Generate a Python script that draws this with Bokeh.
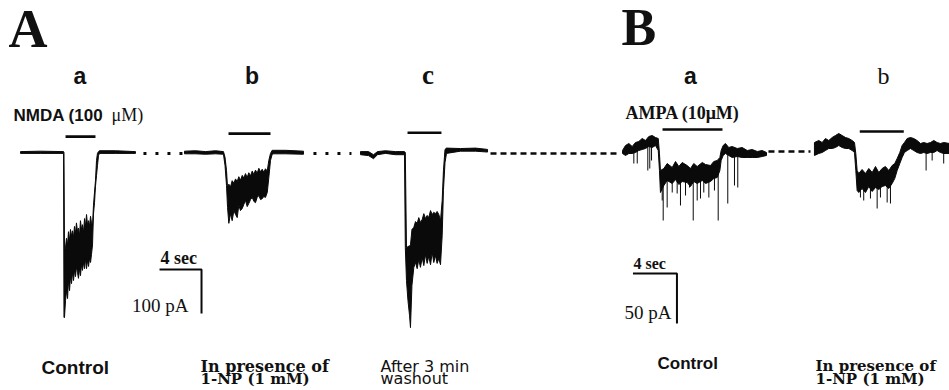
import numpy as np
from bokeh.plotting import figure
from bokeh.models import Range1d, Label
from bokeh.embed import file_html
from bokeh.resources import INLINE

# ---------------- DATA ----------------
# time: s from start of each sweep; current: pA relative to baseline
# (upper / lower envelope of the noisy whole-cell current)

# Panel A - NMDA (100 uM)
nmda_ctrl_t = [0, 1.90, 4.10, 4.14, 4.19, 4.29, 4.38, 4.48, 4.57, 4.67, 4.76, 4.86, 4.95, 5.05,
               5.14, 5.24, 5.33, 5.43, 5.52, 5.62, 5.71, 5.81, 5.90, 6.00, 6.10, 6.19, 6.29, 6.38,
               6.48, 6.57, 6.67, 6.76, 6.86, 6.95, 7.05, 7.14, 7.24, 7.33, 7.43, 7.52, 9.05, 10.95]
nmda_ctrl_hi = [2, 3, 2, 0, -225, -215, -195, -210, -180, -200, -175, -190, -178, -193,
                -168, -184, -160, -180, -172, -189, -155, -175, -164, -182, -150, -168, -141, -164,
                -155, -168, -145, -160, -166, -120, -90, -64, -18, -2, 2, 4, 4, 2]
nmda_ctrl_lo = [-2, -2, -2, -375, -375, -336, -314, -332, -291, -314, -282, -298, -273, -291,
                -268, -282, -259, -273, -286, -264, -280, -255, -268, -250, -264, -241, -264, -245,
                -259, -241, -250, -232, -210, -140, -114, -77, -52, -30, -7, -2, -2, -2]

nmda_np_t = [0, 1.05, 2.0, 2.95, 3.71, 3.86, 4.0, 4.10, 4.22, 4.38, 4.54, 4.70, 4.86, 5.02,
             5.17, 5.33, 5.50, 5.65, 5.81, 5.97, 6.12, 6.29, 6.45, 6.60, 6.76, 6.92, 7.08, 7.24,
             7.40, 7.55, 7.71, 7.88, 8.03, 8.19, 8.35, 8.50, 9.62, 11.33]
nmda_np_hi = [3, 4, 2, 4, 2, -11, -41, -80, -72, -78, -64, -70, -60, -66,
              -55, -63, -52, -58, -48, -57, -46, -53, -42, -50, -40, -47, -36, -44,
              -38, -45, -37, -42, -18, -2, 5, 5, 5, 3]
nmda_np_lo = [-3, -3, -4, -3, -4, -30, -75, -125, -161, -139, -155, -132, -141, -148,
              -120, -132, -127, -118, -109, -123, -116, -107, -102, -111, -114, -102, -98, -107,
              -105, -100, -102, -91, -57, -18, -4, -3, -3, -4]

nmda_wash_t = [0, 0.76, 1.24, 1.62, 2.38, 3.33, 4.19, 4.27, 4.38, 4.52, 4.67, 4.76, 4.90, 5.08,
               5.24, 5.40, 5.55, 5.71, 5.88, 6.03, 6.19, 6.35, 6.50, 6.67, 6.83, 6.98, 7.14, 7.30,
               7.46, 7.62, 7.78, 7.90, 8.05, 8.19, 9.52, 10.95, 12.10]
nmda_wash_hi = [2, 2, -5, 2, 4, 2, 2, 0, -216, -214, -212, -210, -175, -170,
                -157, -161, -148, -159, -152, -139, -150, -143, -148, -132, -141, -136, -139, -134,
                -141, -155, -109, -41, 7, 10, 9, 10, 7]
nmda_wash_lo = [-5, -7, -14, -5, -2, -5, -5, -216, -291, -336, -370, -398, -302, -261,
                -250, -264, -243, -261, -239, -257, -232, -252, -236, -255, -227, -250, -234, -252,
                -241, -255, -189, -86, -23, -2, 3, 3, 1]

# Panel B - AMPA (10 uM)
ampa_ctrl_t = [0, 0.27, 0.58, 0.88, 1.18, 1.48, 1.79, 2.09, 2.39, 2.70, 3.0, 3.25, 3.36, 3.45,
               3.76, 4.06, 4.52, 4.82, 5.12, 5.43, 5.88, 6.18, 6.48, 6.79, 7.25, 7.55, 8.0, 8.30,
               8.61, 8.85, 8.97, 9.15, 9.36, 9.66, 9.97, 10.43, 10.88, 11.34, 11.79, 12.25, 12.70, 13.09]
ampa_ctrl_hi = [2, 7, 9, 6, 10, 11, 14, 12, 16, 17, 15, 14, -1, -18,
                -16, -11, -15, -9, -14, -10, -13, -16, -11, -14, -10, -12, -13, -9,
                -8, -5, 2, 7, 9, 5, 6, 4, 5, 2, 3, 1, 2, 0]
ampa_ctrl_lo = [-1, -3, -1, -1, 0, 2, 3, 4, 6, 5, 7, 2, -18, -40,
                -33, -28, -31, -27, -32, -29, -30, -34, -29, -31, -28, -31, -29, -26,
                -25, -18, -8, -3, -1, -3, -5, -4, -5, -5, -5, -5, -4, -3]
ampa_ctrl_spk_t = [1.03, 1.34, 2.30, 2.48, 2.64, 3.61, 3.70, 4.06, 4.52, 4.97, 5.27, 5.73,
                   6.09, 6.43, 6.79, 7.09, 7.39, 7.85, 8.36, 8.70, 9.57, 10.18, 10.48]
ampa_ctrl_spk_pA = [-11, -11, -18, -16, -8, -48, -68, -55, -40, -41, -53, -43,
                    -35, -68, -48, -46, -40, -45, -38, -68, -51, -33, -35]

ampa_np_t = [0, 0.39, 0.70, 1.0, 1.30, 1.61, 1.91, 2.21, 2.52, 2.82, 3.12, 3.43, 3.64, 3.76, 3.88,
             4.03, 4.33, 4.64, 4.94, 5.25, 5.55, 5.85, 6.15, 6.45, 6.76, 7.06, 7.30, 7.52, 7.76, 7.97, 8.18,
             8.43, 8.73, 9.03, 9.33, 9.64, 9.94, 10.24, 10.55, 10.85, 11.15, 11.45, 11.76, 12.27]
ampa_np_hi = [10, 12, 10, 14, 12, 15, 17, 19, 17, 15, 14, 12, 10, -1, -18,
              -21, -17, -21, -16, -20, -14, -20, -16, -14, -18, -13, -11, -6, 0, 7, 10,
              14, 15, 14, 12, 9, 10, 9, 10, 12, 10, 9, 10, 9]
ampa_np_lo = [-3, -1, 0, 2, 4, 4, 5, 7, 5, 4, 4, 2, 0, -18, -38,
              -40, -36, -40, -34, -39, -35, -37, -34, -33, -36, -31, -26, -18, -11, -5, 0,
              2, 4, 2, 0, -1, 0, -1, 0, 0, 2, 0, -1, -1]
ampa_np_spk_t = [4.18, 4.48, 5.09, 5.70, 6.0, 6.61, 6.91, 10.15, 10.70, 11.75]
ampa_np_spk_pA = [-45, -48, -46, -56, -45, -50, -51, -18, -8, -11]

# drug application periods (s from sweep start)
nmda_app_on = [4.29, 4.19, 4.48]
nmda_app_off = [7.14, 8.19, 7.71]
ampa_app_on = [3.64, 4.12]
ampa_app_off = [9.09, 8.12]

# scale bars
scale_s = 4
nmda_scale_pA = 100
ampa_scale_pA = 50

# ---------------- LAYOUT ----------------
W, H = 949, 390
A_SX, A_SY = 10.5, 0.44      # px per s, px per pA (panel A)
B_SX, B_SY = 11.0, 1.0       # panel B
A_ORIGIN = (20, 152)         # picture px of t=0, 0 pA
B_ORIGIN = (622, 152)
A_OFFSETS = [0, 15.62, 32.38]
B_OFFSETS = [0, 17.45]
A_BAR_LEVEL = [36, 43, 45]
B_BAR_LEVEL = [23, 21]
A_SCALE_CORNER = (17.24, -266)
B_SCALE_CORNER = (4.95, -121)
A_DOTS = [(11.71, 15.43, -2), (27.90, 31.52, -2)]
B_DASHES = [(-12.0, -0.2, -1), (13.27, 17.09, 1)]


def make_ranges(origin, sx, sy):
    x0 = -origin[0] / sx
    ytop = origin[1] / sy
    return Range1d(x0, x0 + W / sx), Range1d(ytop - H / sy, ytop)


ax, ay = make_ranges(A_ORIGIN, A_SX, A_SY)
bx, by = make_ranges(B_ORIGIN, B_SX, B_SY)

p = figure(width=W, height=H, x_range=ax, y_range=ay, output_backend="svg",
           toolbar_location=None, x_axis_type=None, y_axis_type=None,
           min_border=0, outline_line_color=None,
           background_fill_color="white", border_fill_color="white")
p.extra_x_ranges = {"B": bx, "px": Range1d(0, W)}
p.extra_y_ranges = {"B": by, "py": Range1d(H, 0)}

INK = "#0a0a0a"


def rn(panel):
    return dict(x_range_name=panel, y_range_name=panel) if panel != "default" else {}


def trace(t, hi, lo, off, panel):
    t = np.asarray(t, float) + off
    xs = np.concatenate([t, t[::-1]])
    ys = np.concatenate([np.asarray(hi, float), np.asarray(lo, float)[::-1]])
    p.patch(xs, ys, fill_color=INK, line_color=INK, line_width=1, line_join="round", **rn(panel))
    return t


def spikes(t_tr, lo, st, sp, off, panel):
    st = np.asarray(st, float) + off
    base = np.interp(st, t_tr, lo) + 2
    p.segment(st, base, st, sp, line_color=INK, line_width=1, **rn(panel))


trace(nmda_ctrl_t, nmda_ctrl_hi, nmda_ctrl_lo, A_OFFSETS[0], "default")
trace(nmda_np_t, nmda_np_hi, nmda_np_lo, A_OFFSETS[1], "default")
trace(nmda_wash_t, nmda_wash_hi, nmda_wash_lo, A_OFFSETS[2], "default")
ta = trace(ampa_ctrl_t, ampa_ctrl_hi, ampa_ctrl_lo, B_OFFSETS[0], "B")
spikes(ta, ampa_ctrl_lo, ampa_ctrl_spk_t, ampa_ctrl_spk_pA, B_OFFSETS[0], "B")
tb = trace(ampa_np_t, ampa_np_hi, ampa_np_lo, B_OFFSETS[1], "B")
spikes(tb, ampa_np_lo, ampa_np_spk_t, ampa_np_spk_pA, B_OFFSETS[1], "B")

# application bars
for on, off_, lev, o in zip(nmda_app_on, nmda_app_off, A_BAR_LEVEL, A_OFFSETS):
    p.line([on + o, off_ + o], [lev, lev], line_color=INK, line_width=2.6)
for on, off_, lev, o in zip(ampa_app_on, ampa_app_off, B_BAR_LEVEL, B_OFFSETS):
    p.line([on + o, off_ + o], [lev, lev], line_color=INK, line_width=2.6, **rn("B"))

# connecting baselines
for x0, x1, y in A_DOTS:
    p.line([x0, x1], [y, y], line_color=INK, line_width=3, line_dash="3 9")
for x0, x1, y in B_DASHES:
    p.line([x0, x1], [y, y], line_color=INK, line_width=2.5, line_dash="6 4", **rn("B"))

# scale bars
cx, cy = A_SCALE_CORNER
p.line([cx - scale_s, cx, cx], [cy, cy, cy - nmda_scale_pA], line_color=INK, line_width=2)
cx, cy = B_SCALE_CORNER
p.line([cx - scale_s, cx, cx], [cy, cy, cy - ampa_scale_pA], line_color=INK, line_width=2, **rn("B"))

SERIF = "Liberation Serif"
SANS = "Liberation Sans"
DSERIF = "DejaVu Serif"
DSANS = "DejaVu Sans"
BASELINE_SHIFT = 0.4   # em; measured offset of the rendered alphabetic baseline


def txt(s, x, y, size, font=SERIF, style="normal", align="left"):
    p.add_layout(Label(x=x, y=y - BASELINE_SHIFT * size, x_range_name="px", y_range_name="py",
                       text=s, text_font=font, text_font_size=f"{size}px",
                       text_font_style=style, text_align=align, text_baseline="alphabetic",
                       text_color="#111111"))


txt("A", 8, 50, 54, SERIF, "bold")
txt("B", 621, 48, 52, SERIF, "bold")
txt("a", 79.5, 85, 23, SANS, "bold", "center")
txt("b", 251.5, 85, 23, SANS, "bold", "center")
txt("c", 427.5, 85, 27, SERIF, "bold", "center")
txt("a", 690, 85, 23, SANS, "bold", "center")
txt("b", 883, 85, 24, SERIF, "normal", "center")
txt("NMDA (100", 13, 122, 17, SANS, "bold")
txt("\u03bcM)", 111, 122, 18, SERIF, "normal")
txt("AMPA (10\u03bcM)", 625, 120, 18, SERIF, "bold")
txt("4 sec", 160, 265, 18, SERIF, "bold")
txt("100 pA", 188, 313, 19, SERIF, "normal", "right")
txt("4 sec", 633, 269, 16, SERIF, "bold")
txt("50 pA", 671, 320, 19, SERIF, "normal", "right")
txt("Control", 41, 375, 19, SANS, "bold")
txt("In presence of", 200, 372, 16, DSERIF, "bold")
txt("1-NP (1 mM)", 200, 384, 15, DSERIF, "bold")
txt("After 3 min", 380, 372, 16, DSANS, "normal")
txt("washout", 380, 384, 16, DSANS, "normal")
txt("Control", 657, 370, 17, SANS, "bold")
txt("In presence of", 815, 371, 15, DSERIF, "bold")
txt("1-NP (1 mM)", 815, 384, 15, DSERIF, "bold")

open("out.html", "w").write(file_html(p, INLINE))
